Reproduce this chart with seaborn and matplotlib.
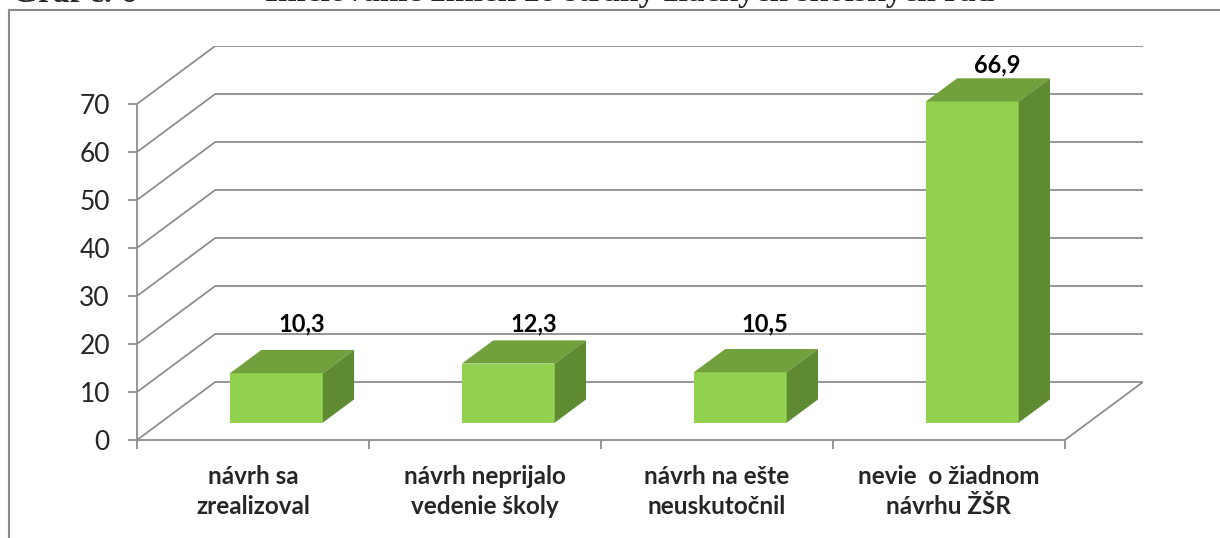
import matplotlib
matplotlib.use("Agg")
import matplotlib.pyplot as plt
import seaborn as sns
import pandas as pd
from matplotlib.patches import Polygon, Rectangle
from matplotlib.transforms import Affine2D

# data
categories = ["návrh sa\nzrealizoval", "návrh neprijalo\nvedenie školy",
              "návrh na ešte\nneuskutočnil", "nevie  o žiadnom\nnávrhu ŽŠR"]
values = [10.3, 12.3, 10.5, 66.9]
yticks = [0, 10, 20, 30, 40, 50, 60, 70]

sns.set_theme(style="white")
plt.rcParams['font.family'] = ['Lato', 'DejaVu Sans']

front_c = '#92D050'
top_c = '#72A03D'
side_c = '#5E8A32'
grid_c = '#8e8e8e'

# depth of the 3d box in data units (x: categories, y: values)
kx, ky = 0.337, 12.08
z0, zd = 0.3, 0.4   # bar front position and bar depth, as fraction of depth

fig = plt.figure(figsize=(12.2, 5.38), dpi=100)
ax = fig.add_axes([137/1220, 98/538, 1006/1220, 394/538])

df = pd.DataFrame({"cat": categories, "val": values})
sns.barplot(data=df, x="cat", y="val", width=0.4, color=front_c,
            saturation=1, linewidth=0, ax=ax, zorder=3)

ax.set_xlim(-0.5, 3.5 + kx)
ax.set_ylim(0, 70 + ky)

# walls and floor
for v in yticks:
    ax.plot([-0.5, -0.5 + kx, 3.5 + kx], [v, v + ky, v + ky],
            color=grid_c, lw=1.3, zorder=1, solid_joinstyle='miter')
ax.plot([3.5, 3.5 + kx], [0, ky], color=grid_c, lw=1.3, zorder=1)

# push front faces back and add top / side faces
shift = Affine2D().translate(z0 * kx, z0 * ky)
for p in ax.patches[:len(values)]:
    p.set_transform(shift + ax.transData)
    x0, w, h = p.get_x(), p.get_width(), p.get_height()
    fx0, fx1 = x0 + z0 * kx, x0 + w + z0 * kx
    fy0, fy1 = z0 * ky, h + z0 * ky
    dx, dy = zd * kx, zd * ky
    ax.add_patch(Polygon([(fx0, fy1), (fx1, fy1), (fx1 + dx, fy1 + dy), (fx0 + dx, fy1 + dy)],
                         closed=True, facecolor=top_c, lw=0, zorder=3))
    ax.add_patch(Polygon([(fx1, fy0), (fx1 + dx, fy0 + dy), (fx1 + dx, fy1 + dy), (fx1, fy1)],
                         closed=True, facecolor=side_c, lw=0, zorder=3))

# value labels
for i, v in enumerate(values):
    ax.text(i + 0.62 * kx, max(v, 13) + 9.7, f"{v:.1f}".replace('.', ','),
            ha='center', va='baseline', fontsize=17, fontweight='bold', color='black')

# axes
for s in ['top', 'right']:
    ax.spines[s].set_visible(False)
ax.spines['left'].set_bounds(0, 70)
ax.spines['bottom'].set_bounds(-0.5, 3.5)
for s in ['left', 'bottom']:
    ax.spines[s].set_color(grid_c)
    ax.spines[s].set_linewidth(1.3)

ax.set_yticks(yticks)
ax.set_yticklabels([str(t) for t in yticks], fontsize=19)
ax.set_xticks([-0.5, 0.5, 1.5, 2.5, 3.5])
ax.set_xticklabels([])
ax.set_xticks(range(len(categories)), minor=True)
ax.set_xticklabels(categories, minor=True, fontsize=17.5, fontweight='bold', linespacing=1.35)
ax.tick_params(axis='y', which='major', left=True, length=6.5, width=1.3, color=grid_c, pad=13)
ax.tick_params(axis='x', which='major', bottom=True, length=6.5, width=1.3, color=grid_c)
ax.tick_params(axis='x', which='minor', bottom=True, length=0, pad=18)
ax.set_xlabel('')
ax.set_ylabel('')
ax.grid(False)

# frame around the chart area, running off the right and bottom edges
fig.add_artist(Rectangle((9/1220, -0.1), 1.2, 1 - 10/538 + 0.1, transform=fig.transFigure,
                         fill=False, edgecolor='#8a8a8a', lw=1.5))

# caption above the frame, cut off by the top edge
fig.text(12/1220, 1 - 1.5/538, "Graf č. 6", ha='left', va='baseline',
         fontsize=24, fontweight='bold', family='Liberation Serif')
fig.text(265/1220, 1 - 1.5/538, "Iniciovanie zmien zo strany žiackych školských rád",
         ha='left', va='baseline', fontsize=24, fontweight='bold', family='Liberation Serif')

fig.savefig('out.png', dpi=100)
